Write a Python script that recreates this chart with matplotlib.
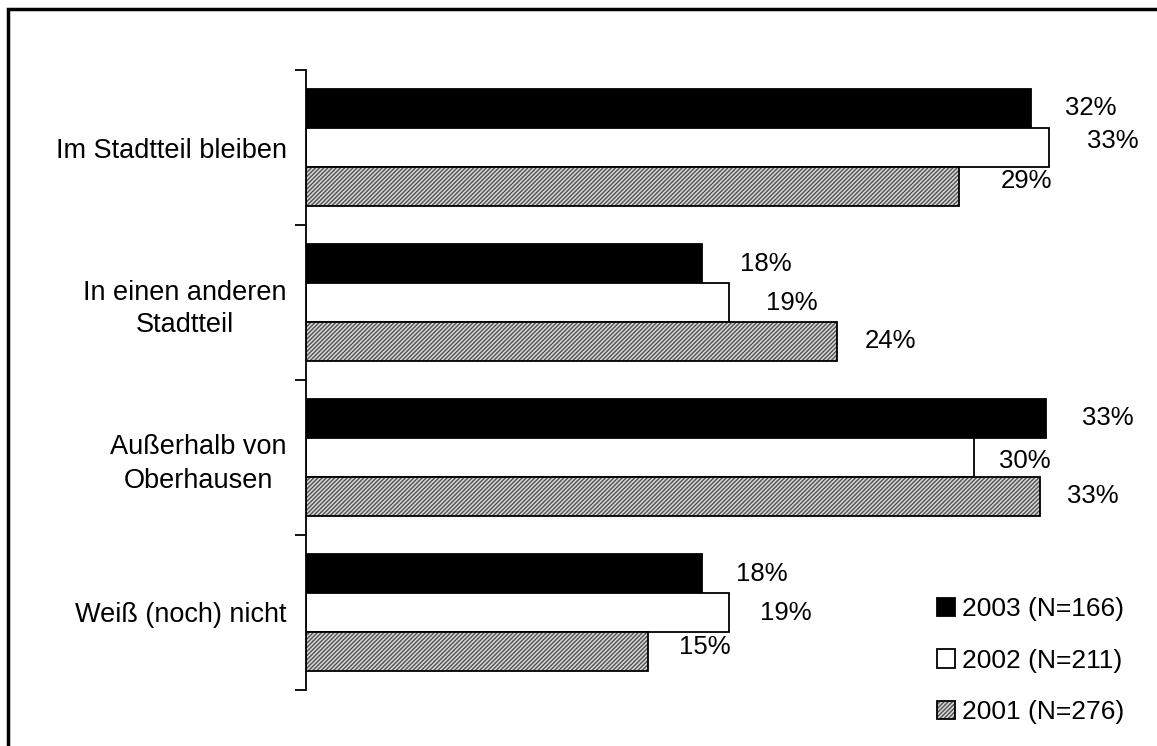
import matplotlib.pyplot as plt
from matplotlib.patches import Rectangle
plt.rcParams['font.family'] = ['Liberation Sans', 'DejaVu Sans']
plt.rcParams['hatch.linewidth'] = 1.0

# Daten
kategorien = ['Im Stadtteil bleiben', 'In einen anderen\nStadtteil',
              'Außerhalb von\nOberhausen', 'Weiß (noch) nicht']
werte_2003 = [32.2, 17.6, 32.9, 17.6]
werte_2002 = [33.0, 18.8, 29.7, 18.8]
werte_2001 = [29.0, 23.6, 32.6, 15.2]
serien = ['2003 (N=166)', '2002 (N=211)', '2001 (N=276)']

# Label-Verschiebung in Pixeln (dx, dy), wie im Original etwas unregelmäßig
offsets = [
    [(35, -1), (39, -6), (42, -5)],
    [(38, 0), (37, 0), (28, 0)],
    [(36, -1), (25, 3), (27, 0)],
    [(34, 0), (31, 0), (31, -4)],
]

fig = plt.figure(figsize=(11.57, 7.46), dpi=100)
W, H = 1157, 746
ax = fig.add_axes([306 / W, (746 - 690) / H, (1130 - 306) / W, 620 / H])

y = range(len(kategorien))
h = 0.25
stile = [dict(color='black', edgecolor='black'),
         dict(color='white', edgecolor='black')]
alle = [werte_2003, werte_2002, werte_2001]
handles = []
for s, werte in enumerate(alle):
    pos = [i + (s - 1) * h for i in y]
    if s == 2:
        # graues Raster: Füllung mit feiner Schraffur, dann schwarzer Rand
        f = ax.barh(pos, werte, height=h, linewidth=0, color='#d8d8d8',
                    edgecolor='#505050', hatch='////////')
        o = ax.barh(pos, werte, height=h, linewidth=1.3, fill=False, edgecolor='black')
        handles.append((f[0], o[0]))
    else:
        b = ax.barh(pos, werte, height=h, linewidth=1.3, **stile[s])
        handles.append(b[0])
    for i, v in enumerate(werte):
        dx, dy = offsets[i][s]
        ax.annotate(f'{round(v)}%', (v, pos[i]), xytext=(dx * 0.72, -dy * 0.72),
                    textcoords='offset points', ha='left', va='center', fontsize=18.5)

ax.set_xlim(0, (1130 - 306) / 22.5)
ax.set_ylim(len(kategorien) - 0.5, -0.5)
ax.set_yticks(list(y))
ax.set_yticklabels(kategorien, fontsize=19.5, multialignment='center', linespacing=1.35)
ax.set_yticks([i - 0.5 for i in range(len(kategorien) + 1)], minor=True)
ax.tick_params(axis='y', which='major', length=0, pad=14)
ax.tick_params(axis='y', which='minor', length=8, width=1.3)
ax.set_xticks([])
for sp in ['top', 'right', 'bottom']:
    ax.spines[sp].set_visible(False)
ax.spines['left'].set_linewidth(1.3)

ax.legend(handles, serien, loc='upper left', bbox_to_anchor=(937 / W, 1 - 597 / H),
          bbox_transform=fig.transFigure, frameon=False, fontsize=19,
          handlelength=0.68, handleheight=0.68, handletextpad=0.25,
          labelspacing=1.05, borderaxespad=0, borderpad=0)

# Rahmen um das Diagramm
fig.patches.append(Rectangle((8 / W, -0.1), 1.2, 1 - 9 / H + 0.1,
                             transform=fig.transFigure, fill=False,
                             edgecolor='black', linewidth=2.5))

fig.savefig('out.png', dpi=100)
